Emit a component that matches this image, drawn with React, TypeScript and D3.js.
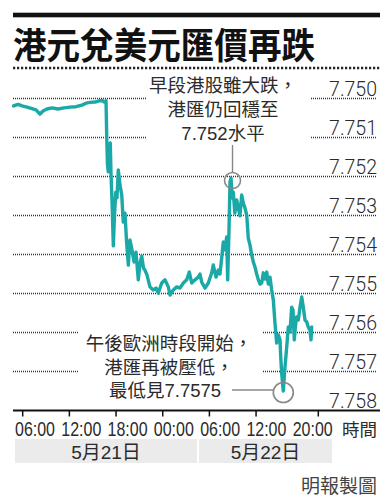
import React from "react";
import * as d3 from "d3";

const W = 390;
const H = 503;

const title = "港元兌美元匯價再跌";
const hours = [4.82,5.40,5.91,6.55,7.20,7.71,8.22,8.61,9.12,9.77,10.54,11.31,12.08,12.85,13.62,14.14,14.65,15.29,15.81,16.19,16.45,16.71,16.81,16.90,17.00,17.16,17.26,17.35,17.48,17.65,17.80,17.96,18.12,18.29,18.51,18.73,18.93,19.15,19.34,19.58,19.79,20.05,20.31,20.56,20.86,21.08,21.30,21.53,21.72,21.98,22.36,22.79,23.14,23.43,23.87,24.29,24.72,24.94,25.36,25.80,26.22,26.65,27.08,27.42,27.72,28.15,28.57,28.79,29.01,29.44,29.86,30.30,30.50,30.85,31.15,31.36,31.58,31.79,32.01,32.22,32.35,32.52,32.65,32.78,32.94,33.07,33.27,33.51,33.72,33.93,34.15,34.36,34.58,34.80,35.00,35.22,35.44,35.64,35.86,36.08,36.29,36.51,36.72,36.93,37.15,37.37,37.57,37.79,38.01,38.22,38.43,38.65,38.86,39.08,39.17,39.29,39.50,39.72,39.94,40.14,40.36,40.58,40.75,40.91,41.07,41.22,41.43,41.65,41.87,42.07,42.29,42.51,42.71,42.93,43.06,43.15];
const rates = [7.75019,7.75015,7.75019,7.75022,7.75026,7.75029,7.75040,7.75032,7.75027,7.75024,7.75027,7.75024,7.75022,7.75021,7.75017,7.75012,7.75010,7.75009,7.75006,7.75005,7.75009,7.75006,
7.75106,7.75171,7.75188,7.75132,7.75114,7.75191,7.75260,7.75378,7.75299,7.75240,7.75255,7.75183,7.75222,7.75247,7.75317,7.75294,7.75363,7.75427,7.75363,7.75388,7.75419,7.75394,7.75465,7.75422,7.75404,7.75435,7.75440,7.75453,
7.75483,7.75491,7.75486,7.75499,7.75473,7.75465,7.75483,7.75504,7.75491,7.75483,7.75486,7.75473,7.75465,7.75445,7.75473,7.75465,7.75458,7.75450,7.75471,7.75486,7.75473,7.75447,7.75427,7.75458,7.75440,7.75450,7.75409,7.75368,7.75388,7.75355,7.75465,7.75337,7.75214,7.75204,
7.75255,7.75240,7.75294,7.75260,7.75281,7.75301,7.75247,7.75268,7.75281,7.75299,7.75358,7.75376,7.75401,7.75419,7.75432,7.75450,7.75465,7.75476,7.75473,7.75447,7.75463,7.75445,7.75476,7.75458,7.75491,7.75517,7.75576,7.75627,7.75606,7.75619,7.75663,7.75704,7.75750,7.75688,7.75637,7.75586,7.75599,7.75535,7.75542,7.75619,7.75583,7.75560,7.75568,7.75535,7.75509,7.75535,7.75568,7.75573,7.75586,7.75594,7.75619,7.75586];

const yTicks = [7.750, 7.751, 7.752, 7.753, 7.754, 7.755, 7.756, 7.757, 7.758];
const xTicks = [6, 12, 18, 24, 30, 36, 44];
const xTickLabels = ["06:00", "12:00", "18:00", "00:00", "06:00", "12:00", "20:00"];
const dayLabels = ["5月21日", "5月22日"];
const noteHigh = ["早段港股雖大跌，", "港匯仍回穩至", "7.752水平"];
const noteLow = ["午後歐洲時段開始，", "港匯再被壓低，", "最低見7.7575"];
const xUnit = "時間";
const credit = "明報製圖";

const SANS = "'Liberation Sans', 'Noto Sans CJK TC', sans-serif";
const LINE = "#1ba9a7";
const INK = "#2b2b2b";

export default function App() {
  const x = d3.scaleLinear().domain([6, 44]).range([22.7, 318.3]);
  const y = d3.scaleLinear().domain([7.75, 7.758]).range([98.5, 410.5]);
  const data = hours.map((h, i) => ({ h, v: rates[i] }));
  const line = d3.line<{ h: number; v: number }>().x((d) => x(d.h)).y((d) => y(d.v));
  const day2 = data.filter((d) => d.h > 24);
  const hi = day2.reduce((a, b) => (b.v < a.v ? b : a));
  const lo = day2.reduce((a, b) => (b.v > a.v ? b : a));
  const labelPos = d3.scalePoint<number>().domain(d3.range(xTickLabels.length)).range([35, 312.7]);
  const dayBands = [
    { x0: 15, x1: 197 },
    { x0: 199, x1: 332 },
  ];

  return (
    <svg width={W} height={H} style={{ position: "absolute", left: 0, top: 0, background: "#fff" }}>
      <rect x={13} y={12.7} width={367} height={4.6} fill="#111" />
      <text x={13} y={59} fontFamily="'Noto Sans CJK TC', serif" fontWeight={700} fontSize={36} fill="#111" textLength={302} lengthAdjust="spacingAndGlyphs">
        {title}
      </text>
      <line x1={13} x2={380} y1={68} y2={68} stroke="#222" strokeWidth={2.4} strokeDasharray="2.2,1.8" />

      {yTicks.slice(0, -1).map((t) => (
        <line key={t} x1={13} x2={377} y1={y(t)} y2={y(t)} stroke="#333" strokeWidth={1.3} strokeDasharray="1,1" />
      ))}
      {yTicks.map((t) => (
        <text key={"l" + t} x={377} y={y(t) - 2.5} textAnchor="end" fontFamily="Roboto, 'Liberation Sans', sans-serif" fontWeight={300} fontSize={19.5} fill={INK}>
          {t.toFixed(3)}
        </text>
      ))}

      <rect x={147} y={72} width={164} height={72} fill="#fff" />
      <rect x={78} y={322} width={185} height={78} fill="#fff" />

      <path d={line(data) || ""} fill="none" stroke={LINE} strokeWidth={3.4} strokeLinejoin="round" strokeLinecap="round" />

      {noteHigh.map((s, i) => (
        <text key={s} x={223} y={92 + i * 24} textAnchor="middle" fontFamily={SANS} fontSize={18.5} fill={INK}>
          {s}
        </text>
      ))}
      <line x1={x(hi.h) + 1.5} x2={x(hi.h) + 1.5} y1={145} y2={y(hi.v) - 5.5} stroke="#888" strokeWidth={1.4} />
      <circle cx={x(hi.h) + 1.5} cy={y(hi.v) + 2.5} r={8} fill="none" stroke="#888" strokeWidth={1.6} />

      {noteLow.map((s, i) => (
        <text key={s} x={i === 2 ? 165 : 169} y={350 + i * 23.5} textAnchor="middle" fontFamily={SANS} fontSize={18.5} fill={INK}>
          {s}
        </text>
      ))}
      <line x1={232} x2={x(lo.h) - 10} y1={390} y2={390} stroke="#888" strokeWidth={1.4} />
      <circle cx={x(lo.h)} cy={y(lo.v) + 1.5} r={10} fill="none" stroke="#888" strokeWidth={1.6} />

      <line x1={13} x2={380} y1={410.5} y2={410.5} stroke="#111" strokeWidth={2} />
      {xTicks.map((t) => (
        <line key={"t" + t} x1={x(t)} x2={x(t)} y1={410.5} y2={416.5} stroke="#111" strokeWidth={1.5} />
      ))}
      {xTickLabels.map((s, i) => (
        <text key={"x" + i} x={labelPos(i)} y={435.5} textAnchor="middle" fontFamily={SANS} fontSize={20} fill={INK} textLength={40} lengthAdjust="spacingAndGlyphs">
          {s}
        </text>
      ))}
      <text x={377} y={436} textAnchor="end" fontFamily={SANS} fontSize={17.5} fill={INK}>
        {xUnit}
      </text>

      {dayLabels.map((s, i) => (
        <g key={s}>
          <rect x={dayBands[i].x0} y={439} width={dayBands[i].x1 - dayBands[i].x0} height={24} fill="#ebebeb" />
          <text x={(dayBands[i].x0 + dayBands[i].x1) / 2} y={459} textAnchor="middle" fontFamily={SANS} fontSize={19} fill={INK}>
            {s}
          </text>
        </g>
      ))}

      <text x={377} y={492.5} textAnchor="end" fontFamily={SANS} fontSize={19} fill="#444">
        {credit}
      </text>
    </svg>
  );
}
